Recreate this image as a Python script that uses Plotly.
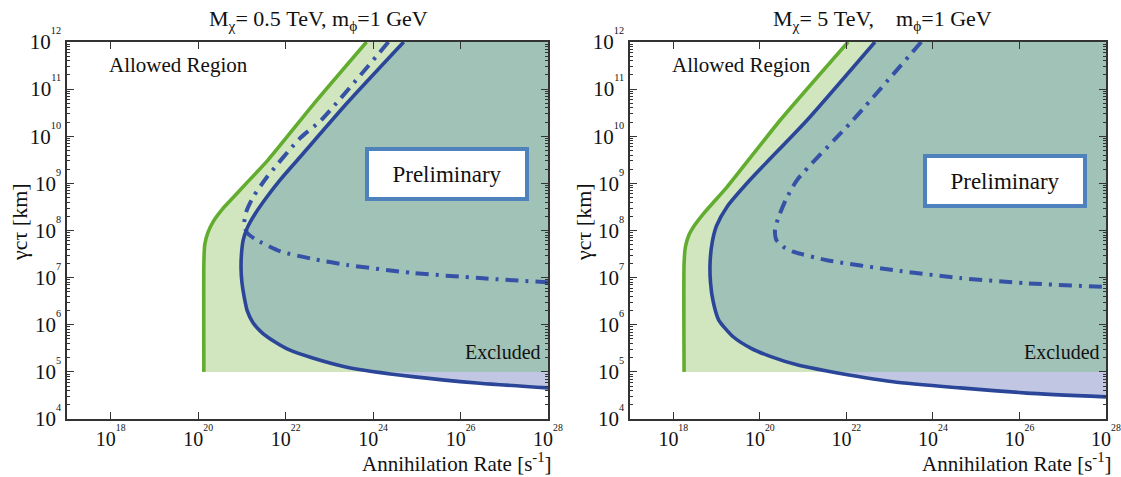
import numpy as np
import plotly.graph_objects as go

W, H = 1121, 477

# ---------------- data (log10 values) ----------------
x_tick_exp = [18, 20, 22, 24, 26, 28]
y_tick_exp = [4, 5, 6, 7, 8, 9, 10, 11, 12]
x_range_exp = [17, 28]
y_range_exp = [4, 12]
floor_exp = 5  # lower edge of the green shaded region

# Left panel: M_chi = 0.5 TeV
L_green_lx = [20.13, 20.13, 20.15, 20.22, 20.35, 20.55, 20.8, 21.1, 21.6, 22.7, 23.85]
L_green_ly = [5.0, 7.3, 7.7, 7.95, 8.2, 8.45, 8.7, 9.0, 9.5, 10.75, 12.0]

L_solid_lx = [24.7, 23.4, 22.33, 21.87, 21.57, 21.3, 21.12, 21.03, 20.99, 20.98, 21.0, 21.05,
              21.12, 21.25, 21.45, 21.75, 22.1, 22.6, 23.4, 24.9, 26.44, 28.0]
L_solid_ly = [12.0, 10.7, 9.56, 9.07, 8.71, 8.35, 8.05, 7.8, 7.5, 7.2, 6.9, 6.6,
              6.3, 6.05, 5.84, 5.64, 5.46, 5.3, 5.1, 4.9, 4.76, 4.66]

L_dash_lx = [24.35, 22.81, 22.33, 21.57, 21.25, 21.1, 21.05, 21.12, 21.3, 21.87, 22.6, 23.4, 24.9, 26.44, 28.0]
L_dash_ly = [12.0, 10.34, 9.96, 9.13, 8.7, 8.4, 8.12, 7.95, 7.82, 7.56, 7.4, 7.27, 7.1, 6.99, 6.9]

# Right panel: M_chi = 5 TeV
R_green_lx = [18.25, 18.25, 18.28, 18.36, 18.5, 18.7, 18.95, 19.24, 20.47, 22.04]
R_green_ly = [5.0, 7.3, 7.65, 7.9, 8.12, 8.36, 8.62, 8.92, 10.34, 12.0]

R_solid_lx = [22.66, 21.09, 19.77, 19.24, 19.0, 18.9, 18.85, 18.86, 18.92, 19.05, 19.39,
              19.8, 20.24, 20.9, 21.55, 23.08, 24.63, 26.17, 28.0]
R_solid_ly = [12.0, 10.34, 9.07, 8.5, 8.1, 7.75, 7.3, 6.9, 6.5, 6.1, 5.74,
              5.5, 5.33, 5.14, 5.02, 4.79, 4.66, 4.55, 4.47]

R_dash_lx = [23.73, 22.15, 20.86, 20.6, 20.42, 20.35, 20.38, 20.55, 20.77, 21.55, 23.08, 24.63, 26.17, 28.0]
R_dash_ly = [12.0, 10.34, 9.07, 8.65, 8.25, 8.0, 7.8, 7.65, 7.55, 7.37, 7.16, 6.99, 6.88, 6.8]

titles = ["M<sub>χ</sub>= 0.5 TeV, m<sub>ϕ</sub>=1 GeV",
          "M<sub>χ</sub>= 5 TeV,\u00a0\u00a0\u00a0\u00a0m<sub>ϕ</sub>=1 GeV"]

# ---------------- styles ----------------
GREEN = "#62ad2f"
BLUE = "#2b4699"
BLUE_DD = "#3652a6"
FILL_GREEN = "#d1e6bf"
FILL_TEAL = "#a1c2b7"
FILL_LAV = "#c1c7e2"
FONT = "Liberation Serif"
AX = "#333333"


def p10(v):
    return list(10 ** np.asarray(v, dtype=float))


def split_at_floor(lx, ly, floor):
    lx = list(lx); ly = list(ly)
    for i in range(1, len(ly)):
        if ly[i] < floor <= ly[i - 1]:
            t = (ly[i - 1] - floor) / (ly[i - 1] - ly[i])
            cx = lx[i - 1] + t * (lx[i] - lx[i - 1])
            upper = (lx[:i] + [cx], ly[:i] + [floor])
            lower = ([cx] + lx[i:], [floor] + ly[i:])
            return upper, lower
    return (lx, ly), ([], [])


fig = go.Figure()


def add_panel(xa, ya, g_lx, g_ly, s_lx, s_ly, d_lx, d_ly):
    xmax = x_range_exp[1]
    ytop = y_range_exp[1]
    gx = list(g_lx) + [xmax, xmax]
    gy = list(g_ly) + [ytop, floor_exp]
    fig.add_trace(go.Scatter(x=p10(gx), y=p10(gy), fill="toself", fillcolor=FILL_GREEN,
                             mode="lines", line=dict(width=0), hoverinfo="skip",
                             xaxis=xa, yaxis=ya, showlegend=False))
    (ux, uy), (lx_, ly_) = split_at_floor(s_lx, s_ly, floor_exp)
    tx = ux + [xmax, xmax]
    ty = uy + [floor_exp, ytop]
    fig.add_trace(go.Scatter(x=p10(tx), y=p10(ty), fill="toself", fillcolor=FILL_TEAL,
                             mode="lines", line=dict(width=0), hoverinfo="skip",
                             xaxis=xa, yaxis=ya, showlegend=False))
    if lx_:
        vx = lx_ + [xmax]
        vy = ly_ + [floor_exp]
        fig.add_trace(go.Scatter(x=p10(vx), y=p10(vy), fill="toself", fillcolor=FILL_LAV,
                                 mode="lines", line=dict(width=0), hoverinfo="skip",
                                 xaxis=xa, yaxis=ya, showlegend=False))
    fig.add_trace(go.Scatter(x=p10(g_lx), y=p10(g_ly), mode="lines",
                             line=dict(color=GREEN, width=3.6, shape="spline", smoothing=0.6),
                             xaxis=xa, yaxis=ya, showlegend=False, hoverinfo="skip"))
    fig.add_trace(go.Scatter(x=p10(d_lx), y=p10(d_ly), mode="lines",
                             line=dict(color=BLUE_DD, width=4, shape="spline", smoothing=0.6,
                                       dash="13px,7px,3px,7px"),
                             xaxis=xa, yaxis=ya, showlegend=False, hoverinfo="skip"))
    fig.add_trace(go.Scatter(x=p10(s_lx), y=p10(s_ly), mode="lines",
                             line=dict(color=BLUE, width=3.6, shape="spline", smoothing=0.6),
                             xaxis=xa, yaxis=ya, showlegend=False, hoverinfo="skip"))


add_panel("x", "y", L_green_lx, L_green_ly, L_solid_lx, L_solid_ly, L_dash_lx, L_dash_ly)
add_panel("x2", "y2", R_green_lx, R_green_ly, R_solid_lx, R_solid_ly, R_dash_lx, R_dash_ly)

minor_vals = [k * 10.0 ** e for e in range(y_range_exp[0], y_range_exp[1]) for k in range(2, 10)]

xaxis_common = dict(type="log", range=x_range_exp, showgrid=False, zeroline=False,
                    showline=True, linecolor=AX, linewidth=1.5, mirror="allticks",
                    ticks="inside", ticklen=7, tickwidth=1.3, tickcolor=AX, automargin=False,
                    ticklabeloverflow="allow", ticklabelstandoff=1,
                    tickmode="array", tickvals=p10(x_tick_exp),
                    ticktext=[f"10<sup><sup>{e}</sup></sup>" for e in x_tick_exp],
                    tickfont=dict(family=FONT, size=20, color="#111"))
yaxis_common = dict(type="log", range=y_range_exp, showgrid=False, zeroline=False,
                    showline=True, linecolor=AX, linewidth=1.5, mirror="allticks",
                    ticks="inside", ticklen=7, tickwidth=1.3, tickcolor=AX, automargin=False,
                    ticklabeloverflow="allow",
                    tickmode="array", tickvals=p10(y_tick_exp),
                    ticktext=[f"10<sup><sup>{e}</sup></sup>" for e in y_tick_exp],
                    tickfont=dict(family=FONT, size=21, color="#111"),
                    minor=dict(ticks="inside", ticklen=3.5, tickwidth=1, tickcolor=AX,
                               tickmode="array", tickvals=minor_vals))

yd = [1 - 419 / H, 1 - 42 / H]
fig.update_layout(
    width=W, height=H, margin=dict(l=0, r=0, t=0, b=0, autoexpand=False),
    paper_bgcolor="white", plot_bgcolor="white",
    xaxis=dict(domain=[67 / W, 548 / W], anchor="y", **xaxis_common),
    yaxis=dict(domain=yd, anchor="x", **yaxis_common),
    xaxis2=dict(domain=[630 / W, 1106 / W], anchor="y2", **xaxis_common),
    yaxis2=dict(domain=yd, anchor="x2", **yaxis_common),
    font=dict(family=FONT, color="#111"),
)


def ann(text, x, y, size, xanchor="center", yanchor="middle", **kw):
    fig.add_annotation(text=text, x=x / W, y=1 - y / H, xref="paper", yref="paper",
                       showarrow=False, xanchor=xanchor, yanchor=yanchor,
                       font=dict(family=FONT, size=size, color="#111"), **kw)


for cx, t in zip([318, 882], titles):
    ann(t, cx, 20, 22)
for lx in [107, 670]:
    ann("Allowed Region", lx, 65, 21, xanchor="left")
for cx, cy in [(447, 174), (1005, 181)]:
    ann("Preliminary", cx, cy, 23, bgcolor="white", bordercolor="#4f81bd",
        borderwidth=4, borderpad=0, width=156, height=46)
for rx in [543, 1102]:
    ann("Excluded", rx, 352, 20, xanchor="right")
for rx in [553, 1113]:
    ann("Annihilation Rate [s<sup>-1</sup>]", rx, 477, 21, xanchor="right", yanchor="bottom",
        borderpad=0)
for cx in [19, 583]:
    ann("γcτ [km]", cx, 222, 22, textangle=-90)

fig.write_html("out.html", config={"displayModeBar": False},
               post_script="document.body.style.margin='0';")
